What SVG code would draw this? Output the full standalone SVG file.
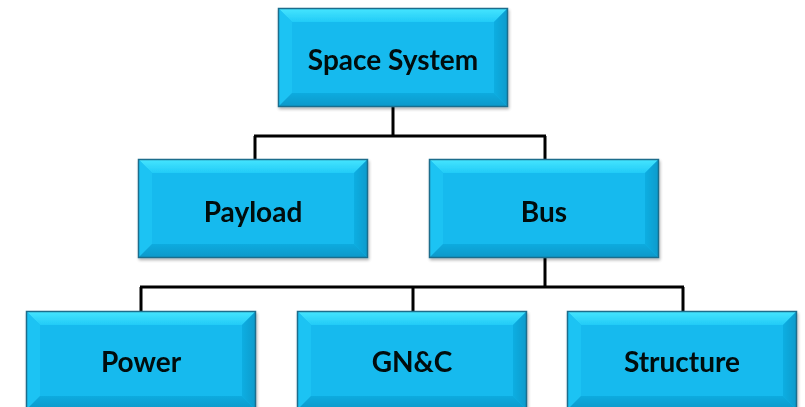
<svg xmlns="http://www.w3.org/2000/svg" xmlns:xlink="http://www.w3.org/1999/xlink" width="805" height="407" viewBox="0 0 805 407">
  <style>
    .lbl { font-family: Lato, "Open Sans", "Liberation Sans", sans-serif; font-weight: bold; font-size: 28px; fill: #050a0c; text-anchor: middle; dominant-baseline: central; }
    .wire { stroke: #000; stroke-width: 3; fill: none; }
  </style>
  <defs>
    <filter id="shadow" x="-10%" y="-10%" width="130%" height="130%">
      <feGaussianBlur in="SourceAlpha" stdDeviation="1.5"/>
      <feOffset dx="1" dy="2" result="b"/>
      <feComponentTransfer><feFuncA type="linear" slope="0.3"/></feComponentTransfer>
      <feMerge><feMergeNode/><feMergeNode in="SourceGraphic"/></feMerge>
    </filter>
    <linearGradient id="topBevel" x1="0" y1="0" x2="0" y2="1">
      <stop offset="0" stop-color="#45e6ff"/>
      <stop offset="1" stop-color="#22cbf7"/>
    </linearGradient>
    <linearGradient id="bottomBevel" x1="0" y1="0" x2="0" y2="1">
      <stop offset="0" stop-color="#10abdf"/>
      <stop offset="1" stop-color="#0c98c9"/>
    </linearGradient>
    <linearGradient id="rightBevel" x1="0" y1="0" x2="1" y2="0">
      <stop offset="0" stop-color="#10aee2"/>
      <stop offset="1" stop-color="#0b9acb"/>
    </linearGradient>
    <!-- bevelled block, 230 x 99, origin at top-left -->
    <g id="block">
      <rect x="0" y="0" width="230" height="99" fill="#14b8ec"/>
      <polygon points="0,0 230,0 216,14 14,14" fill="url(#topBevel)"/>
      <polygon points="0,0 14,14 14,85 0,99" fill="#1ec3f3"/>
      <polygon points="230,0 230,99 216,85 216,14" fill="url(#rightBevel)"/>
      <polygon points="0,99 14,85 216,85 230,99" fill="url(#bottomBevel)"/>
      <rect x="14" y="14" width="202" height="71" fill="#15baee"/>
      <rect x="0.5" y="0.5" width="229" height="98" fill="none" stroke="#1d6d8c" stroke-width="1.5"/>
    </g>
  </defs>

  <g id="connectors">
    <path class="wire" d="M393,107 V136 M254,136 H546 M255,136 V159 M545,136 V159"/>
    <path class="wire" d="M545,258 V287 M140,287 H684 M141,287 V311 M413,287 V311 M683,287 V311"/>
  </g>

  <g id="space-system" filter="url(#shadow)">
    <use xlink:href="#block" x="278" y="8"/>
    <text class="lbl" x="393" y="59">Space System</text>
  </g>
  <g id="payload" filter="url(#shadow)">
    <use xlink:href="#block" x="138" y="159"/>
    <text class="lbl" x="253" y="211">Payload</text>
  </g>
  <g id="bus" filter="url(#shadow)">
    <use xlink:href="#block" x="429" y="159"/>
    <text class="lbl" x="544" y="211">Bus</text>
  </g>
  <g id="power" filter="url(#shadow)">
    <use xlink:href="#block" x="26" y="311"/>
    <text class="lbl" x="141" y="361">Power</text>
  </g>
  <g id="gnc" filter="url(#shadow)">
    <use xlink:href="#block" x="297" y="311"/>
    <text class="lbl" x="412" y="361">GN&amp;C</text>
  </g>
  <g id="structure" filter="url(#shadow)">
    <use xlink:href="#block" x="567" y="311"/>
    <text class="lbl" x="682" y="361">Structure</text>
  </g>
</svg>
